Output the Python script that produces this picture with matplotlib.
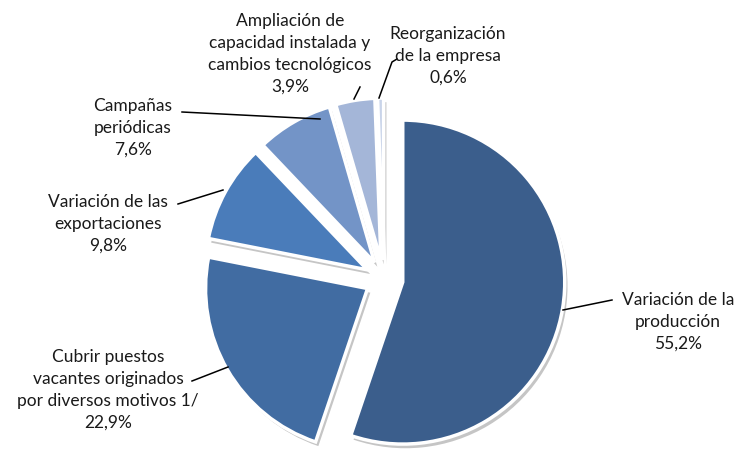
import matplotlib.pyplot as plt
import matplotlib.patheffects as pe

plt.rcParams['font.family'] = ['Lato', 'DejaVu Sans']

# datos
labels = ['Variación de la\nproducción', 'Cubrir puestos\nvacantes originados\npor diversos motivos 1/',
          'Variación de las\nexportaciones', 'Campañas\nperiódicas',
          'Ampliación de\ncapacidad instalada y\ncambios tecnológicos', 'Reorganización\nde la empresa']
values = [55.2, 22.9, 9.8, 7.6, 3.9, 0.6]
pct_txt = ['55,2%', '22,9%', '9,8%', '7,6%', '3,9%', '0,6%']
colors = ['#3b5e8c', '#416ca2', '#4a7cba', '#7394c7', '#a4b6d8', '#c9d4e9']

fig = plt.figure(figsize=(7.43, 4.5), dpi=100)
ax = fig.add_axes([0, 0, 1, 1])

# explode en unidades absolutas (px)
wedges, _ = ax.pie(values, colors=colors, startangle=90, counterclock=False,
                   explode=[19] * len(values), radius=162, center=(384, 171),
                   wedgeprops=dict(edgecolor='white', linewidth=2.5), frame=True)
ax.set_xlim(0, 743)
ax.set_ylim(0, 450)
ax.axis('off')
for w in wedges:
    w.set_path_effects([pe.SimplePatchShadow(offset=(2, -3), shadow_rgbFace='#808080', alpha=0.45),
                        pe.Normal()])

# etiquetas (posición en px de la imagen, y desde arriba) y líneas guía
lab_pos = [(678, 322), (108, 390), (108, 224), (133, 128), (290, 54), (448, 56)]
lines = [[(612, 300), (563, 310)],
         [(192, 381), (228, 367)],
         [(178, 204), (223, 190)],
         [(182, 112), (320, 119)],
         [(360, 87), (354, 99)],
         [(397, 59), (392, 62), (379, 98)]]

for lab, p, (x, y), ln in zip(labels, pct_txt, lab_pos, lines):
    ax.text(x, 450 - y, lab + '\n' + p, ha='center', va='center', fontsize=12.5,
            linespacing=1.45, color='#1a1a1a')
    ax.plot([q[0] for q in ln], [450 - q[1] for q in ln], color='black', lw=1.1)

fig.savefig('out.png', dpi=100)
